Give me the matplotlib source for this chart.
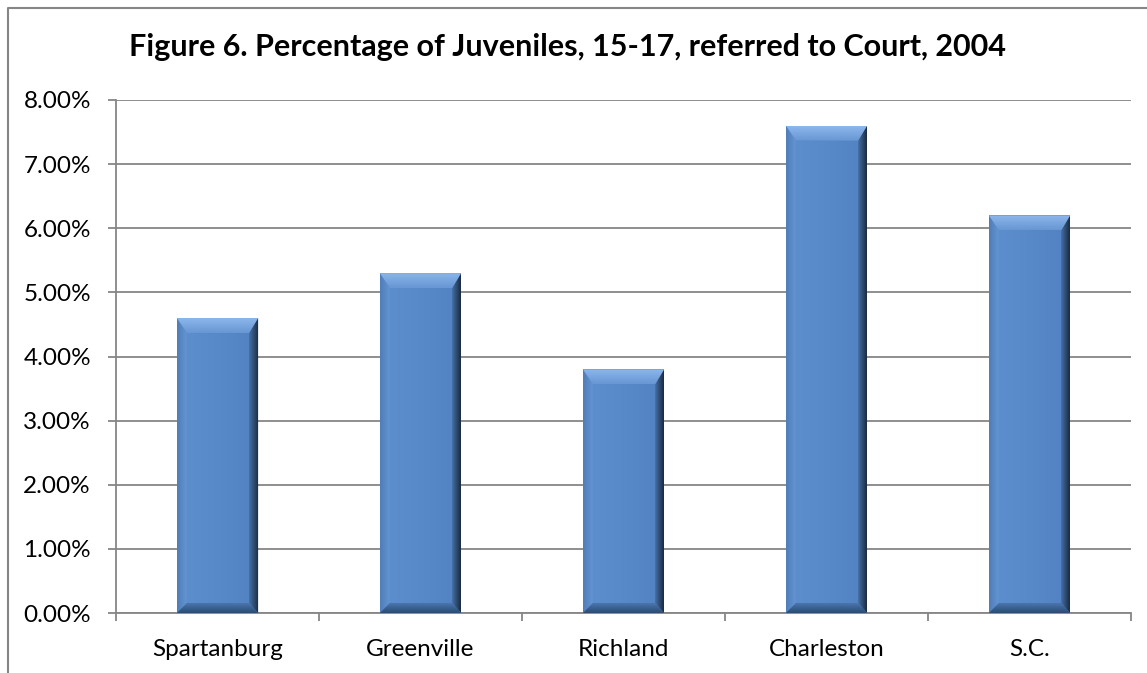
import numpy as np
import matplotlib.pyplot as plt
from matplotlib.patches import Polygon
from matplotlib.colors import LinearSegmentedColormap
from matplotlib.lines import Line2D
from matplotlib.ticker import FixedLocator

# ---------------- DATI ----------------
contee = ["Spartanburg", "Greenville", "Richland", "Charleston", "S.C."]
percentuali = [4.6, 5.3, 3.8, 7.6, 6.2]  # % giovani 15-17 deferiti al tribunale
y_tick_val = [0, 1, 2, 3, 4, 5, 6, 7, 8]
titolo = "Figure 6. Percentage of Juveniles, 15-17, referred to Court, 2004"

# ---------------- FIGURA ----------------
W, H = 1147, 673
plt.rcParams["font.family"] = ["Lato", "DejaVu Sans"]
grigio = "#868686"

fig = plt.figure(figsize=(W / 100, H / 100), dpi=100)
ax_l, ax_r, ax_t, ax_b = 116, 1131, 100, 613
ax = fig.add_axes([ax_l / W, 1 - ax_b / H, (ax_r - ax_l) / W, (ax_b - ax_t) / H])

x_lim = (-0.5, len(contee) - 0.5)
y_lim = (0, 8)
# dimensione di un pixel in unita' dati
px = (x_lim[1] - x_lim[0]) / (ax_r - ax_l)
py = (y_lim[1] - y_lim[0]) / (ax_b - ax_t)

larg = 0.4
xpos = np.arange(len(contee))
bars = ax.bar(xpos, percentuali, width=larg, color="#5484C2", zorder=3)


def sfumatura(poly, c1, c2, verticale):
    # gradiente lineare ritagliato sul poligono
    cmap = LinearSegmentedColormap.from_list("g", [c1, c2])
    pts = np.array(poly)
    x0, x1 = pts[:, 0].min(), pts[:, 0].max()
    y0, y1 = pts[:, 1].min(), pts[:, 1].max()
    g = np.linspace(0, 1, 64)
    img = g[:, None] if verticale else g[None, :]
    patch = Polygon(poly, closed=True, facecolor="none", edgecolor="none")
    ax.add_patch(patch)
    # verticale: c1 in alto, c2 in basso
    im = ax.imshow(img, cmap=cmap, extent=(x0, x1, y0, y1), origin="upper",
                   aspect="auto", interpolation="bicubic", zorder=4)
    im.set_clip_path(patch)


for b in bars:
    x0 = b.get_x()
    x1 = x0 + b.get_width()
    h = b.get_height()
    bt, bb = 15 * py, 10 * py
    bl, br = 10 * px, 9 * px
    # faccia centrale
    sfumatura([(x0 + bl, bb), (x0 + bl, h - bt), (x1 - br, h - bt), (x1 - br, bb)],
              "#5C8ECE", "#5383C2", False)
    # lato sinistro
    sfumatura([(x0, 0), (x0, h), (x0 + bl, h - bt), (x0 + bl, bb)],
              "#4F7DB8", "#6495D3", False)
    # lato destro (ombra)
    sfumatura([(x1, 0), (x1, h), (x1 - br, h - bt), (x1 - br, bb)],
              "#4570A8", "#1A2A3F", False)
    # bordo superiore (luce)
    sfumatura([(x0, h), (x1, h), (x1 - br, h - bt), (x0 + bl, h - bt)],
              "#8DB7EC", "#6796D3", True)
    # bordo inferiore
    sfumatura([(x0, 0), (x1, 0), (x1 - br, bb), (x0 + bl, bb)],
              "#4A76AE", "#2D4A72", True)

ax.set_xlim(*x_lim)
ax.set_ylim(*y_lim)

# ---------------- ASSI ----------------
ax.set_yticks(y_tick_val)
ax.set_yticklabels([f"{v:.2f}%" for v in y_tick_val])
ax.yaxis.grid(True, color=grigio, linewidth=1.3, zorder=0)
ax.set_axisbelow(True)

ax.set_xticks(xpos)
ax.set_xticklabels(contee)
ax.xaxis.set_minor_locator(FixedLocator(np.arange(-0.5, len(contee), 1.0)))
ax.tick_params(axis="x", which="major", length=0, pad=19, labelsize=17.5)
ax.tick_params(axis="x", which="minor", length=6, width=1.3, color=grigio,
               direction="out")
ax.tick_params(axis="y", length=6, width=1.3, color=grigio, pad=12,
               labelsize=17.5)

for s in ["top", "right"]:
    ax.spines[s].set_visible(False)
for s in ["left", "bottom"]:
    ax.spines[s].set_color(grigio)
    ax.spines[s].set_linewidth(1.3)

# ---------------- TITOLO E CORNICE ----------------
fig.text(0.5 - 6 / W, 1 - 47 / H, titolo, ha="center", va="center",
         fontsize=22, fontweight="bold")

cornice = Line2D([8 / W, 8 / W, 1.0], [0.0, 1 - 8 / H, 1 - 8 / H],
                 transform=fig.transFigure, color=grigio, linewidth=1.5)
fig.add_artist(cornice)

fig.savefig("out.png", dpi=100)
